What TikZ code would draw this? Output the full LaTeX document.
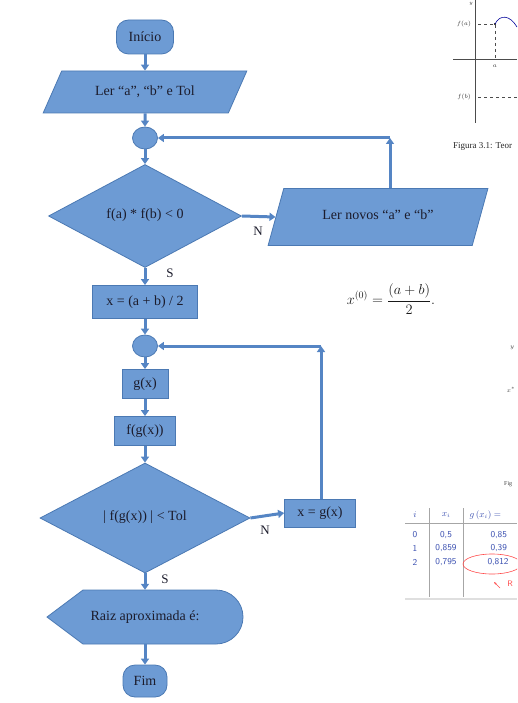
\documentclass[tikz,border=0pt]{standalone}
\usepackage{fontspec}
\setmainfont{Liberation Serif}
\usetikzlibrary{shapes.geometric,arrows.meta}
\definecolor{relleno}{HTML}{6D9BD4}
\definecolor{borde}{HTML}{4B79B3}
\definecolor{linea}{HTML}{5585C4}
\definecolor{texto}{HTML}{1C1C2C}
\definecolor{tinta}{HTML}{3A4FB0}
\tikzset{
  forma/.style={draw=borde, fill=relleno, line width=0.8pt, text=texto,
    font=\fontsize{14}{16}\selectfont, inner sep=0pt},
  terminal/.style={forma, rectangle, rounded corners=12pt},
  caja/.style={forma, rectangle},
  decision/.style={forma, diamond},
  entrada/.style={forma, trapezium, trapezium stretches=true},
  union/.style={forma, ellipse, minimum width=25pt, minimum height=22pt},
  flecha/.style={draw=linea, line width=3pt, -{Triangle[length=6pt,width=8pt]}},
  rotulo/.style={text=texto, font=\fontsize{13}{15}\selectfont},
}
\begin{document}
\begin{tikzpicture}[x=1pt, y=-1pt]
  \useasboundingbox (0,0) rectangle (517,703);
  \clip (0,0) rectangle (517,703);

  % Fragmentos del documento de fondo
  \draw[gray!60!black, line width=0.5pt] (475,0) -- (475,123);
  \draw[gray!60!black, line width=0.5pt] (453,59) -- (517,59);
  \draw[gray!60!black, dashed, line width=0.4pt] (478,24) -- (495,24) -- (495,59);
  \draw[gray!60!black, dashed, line width=0.4pt] (478,97) -- (517,97);
  \fill[black] (495,24) circle (1.2pt);
  \draw[blue!60!black, line width=0.6pt] (495,24) .. controls (500,14) and (510,15) .. (517,27);
  \node[font=\fontsize{6}{7}\selectfont, gray!40!black] (fa) at (464,24) {$f(a)$};
  \node[font=\fontsize{6}{7}\selectfont, gray!40!black] (pa) at (495,66) {$a$};
  \node[font=\fontsize{6}{7}\selectfont, gray!40!black] (fb) at (464,97) {$f(b)$};
  \node[font=\fontsize{5}{6}\selectfont, gray!40!black] (ey) at (471,4) {$y$};
  \node[font=\rmfamily\fontsize{9}{10}\selectfont, gray!30!black, anchor=west, inner sep=0pt] (cap) at (453,146) {Figura 3.1: Teor};
  \node[font=\fontsize{14.5}{16}\selectfont, gray!20!black] (formula) at (391,299) {$\displaystyle x^{(0)}=\frac{(a+b)}{2}.$};
  \node[font=\fontsize{6}{7}\selectfont, gray!50!black] (ey2) at (512,348) {$y$};
  \node[font=\fontsize{6}{7}\selectfont, gray!50!black] (ex2) at (511,390) {$x^*$};
  \node[font=\fontsize{6}{7}\selectfont, gray!50!black, anchor=west, inner sep=0pt] (fig2) at (504,484) {Fig};

  % Tabla manuscrita
  \draw[gray!70, line width=0.6pt] (405,523) -- (517,523);
  \draw[gray!70, line width=0.6pt] (429,508) -- (429,597);
  \draw[gray!70, line width=0.6pt] (463,508) -- (463,597);
  \draw[gray!25, line width=1.2pt] (405,599) -- (517,599);
  \begin{scope}[font=\sffamily\fontsize{9}{10}\selectfont, text=tinta]
    \node (ti) at (415,515) {$i$};
    \node (tx) at (446,515) {$x_i$};
    \node[anchor=west] (tg) at (466,515) {$g\,(x_i)=$};
    \node (i0) at (415,535) {0};   \node (x0) at (446,535) {0,5};   \node[anchor=west] (g0) at (487,535) {0,85};
    \node (i1) at (415,548) {1};   \node (x1) at (446,548) {0,859}; \node[anchor=west] (g1) at (487,548) {0,39};
    \node (i2) at (415,562) {2};   \node (x2) at (446,562) {0,795}; \node[anchor=west] (g2) at (484,562) {0,812};
  \end{scope}
  \draw[red!70, line width=0.6pt] (492,564) ellipse [x radius=29pt, y radius=10pt];
  \draw[red!70, line width=0.6pt, -{Stealth[length=3pt]}] (500,588) -- (494,582);
  \node[red!70, font=\sffamily\fontsize{8}{9}\selectfont] (rr) at (510,584) {R};

  % Diagrama de flujo
  \node[terminal, minimum width=57pt, minimum height=34pt] (inicio) at (145,37) {Início};
  \node[entrada, trapezium left angle=47, trapezium right angle=133,
        minimum width=204pt, minimum height=42pt] (leer) at (145,92) {Ler “a”, “b” e Tol};
  \node[union] (con1) at (145,138) {};
  \node[decision, minimum width=193pt, minimum height=103pt] (dec1) at (145,216) {\raisebox{4pt}{f(a) * f(b) < 0}};
  \node[entrada, trapezium left angle=56, trapezium right angle=124,
        minimum width=220pt, minimum height=57pt] (nuevos) at (378,217) {\raisebox{4pt}{Ler novos “a” e “b”}};
  \node[caja, minimum width=105pt, minimum height=33pt] (media) at (145,302) {x = (a + b) / 2};
  \node[union] (con2) at (145,346) {};
  \node[caja, minimum width=46pt, minimum height=29pt] (gx) at (145,384) {g(x)};
  \node[caja, minimum width=61pt, minimum height=29pt] (fgx) at (145,431) {f(g(x))};
  \node[decision, minimum width=210pt, minimum height=110pt] (dec2) at (145,518) {\raisebox{4pt}{| f(g(x)) | < Tol}};
  \node[caja, minimum width=71pt, minimum height=28pt] (xg) at (320,513) {x = g(x)};
  % Salida (display)
  \draw[forma] (47,617) -- (83,590) -- (216,590) arc[start angle=90, end angle=-90, radius=27pt]
        -- (83,644) -- cycle;
  \node[rotulo, font=\fontsize{14}{16}\selectfont, minimum width=196pt, minimum height=54pt] (raiz) at (145,617) {Raiz aproximada é:};
  \node[terminal, minimum width=44pt, minimum height=32pt] (fim) at (145,681) {Fim};

  % Conectores
  \coordinate (esq1) at (390,138);
  \coordinate (esq2) at (321,346);
  \draw[flecha] (inicio) -- (leer);
  \draw[flecha] (leer) -- (con1);
  \draw[flecha] (con1) -- (dec1);
  \draw[flecha] (dec1.east) -- (nuevos.west);
  \draw[flecha] (nuevos.north -| esq1) -- (esq1);
  \draw[flecha] (esq1) -- (con1.east);
  \draw[flecha] (dec1) -- (media);
  \draw[flecha] (media) -- (con2);
  \draw[flecha] (con2) -- (gx);
  \draw[flecha] (gx) -- (fgx);
  \draw[flecha] (fgx) -- (dec2);
  \draw[flecha] (dec2.east) -- (xg.west);
  \draw[flecha] (xg.north -| esq2) -- (esq2);
  \draw[flecha] (esq2) -- (con2.east);
  \draw[flecha] (dec2.south) -- (raiz.north);
  \draw[flecha] (raiz.south) -- (fim);

  % Etiquetas S / N
  \node[rotulo] (n1) at (258,231) {N};
  \node[rotulo] (s1) at (170,273) {S};
  \node[rotulo] (n2) at (265,530) {N};
  \node[rotulo] (s2) at (165,579) {S};
\end{tikzpicture}
\end{document}
